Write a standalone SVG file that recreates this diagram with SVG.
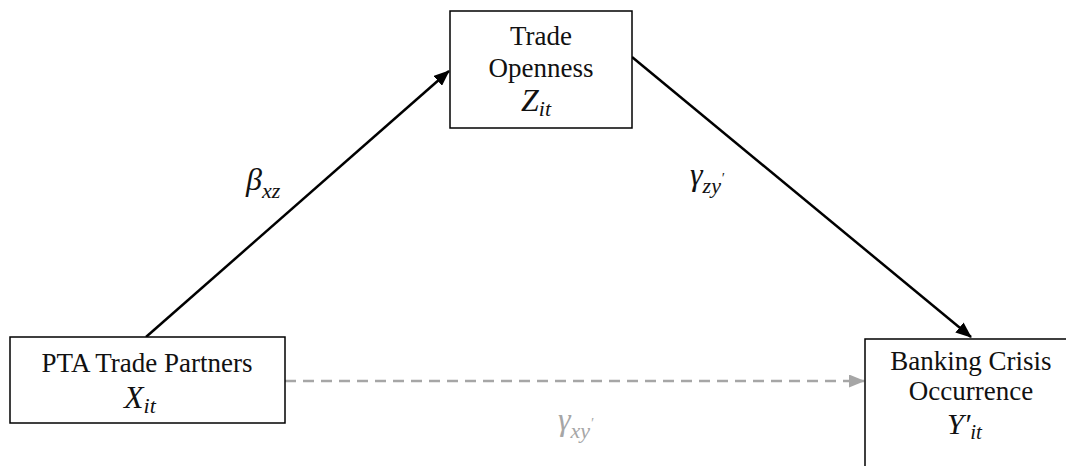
<svg xmlns="http://www.w3.org/2000/svg" width="1066" height="466" viewBox="0 0 1066 466">
<defs>
<style>
.box{fill:#fff;stroke:#000;stroke-width:1.5}
.t{font-family:"Liberation Serif",serif;font-size:27px;fill:#111;text-anchor:middle}
.m{font-family:"Liberation Serif",serif;font-style:italic;font-size:32px;fill:#111}
.s{font-size:22px}
.e{stroke:#000;stroke-width:2.5;fill:none}
.d{stroke:#a6a6a6;stroke-width:2.5;fill:none;stroke-dasharray:11 7}
</style>
<marker id="ah" markerWidth="16" markerHeight="13" refX="15" refY="6.5" orient="auto" markerUnits="userSpaceOnUse" viewBox="0 0 16 13">
<path d="M0,0 L16,6.5 L0,13 z" fill="#000"/>
</marker>
<marker id="ahg" markerWidth="16" markerHeight="13" refX="15" refY="6.5" orient="auto" markerUnits="userSpaceOnUse" viewBox="0 0 16 13">
<path d="M0,0 L16,6.5 L0,13 z" fill="#a6a6a6"/>
</marker>
</defs>
<rect width="1066" height="466" fill="#fff"/>
<g id="connectors">
<line class="e" x1="146" y1="337" x2="449" y2="71" marker-end="url(#ah)"/>
<line class="e" x1="632" y1="57" x2="971" y2="337" marker-end="url(#ah)"/>
<line class="d" x1="285" y1="381" x2="864" y2="381" marker-end="url(#ahg)"/>
<text class="m" x="246" y="190">β<tspan class="s" dy="8">xz</tspan></text>
<text class="m" x="690" y="185">γ<tspan class="s" dy="8">zy</tspan><tspan font-size="14" dy="-10">′</tspan></text>
<text class="m" x="558" y="430" style="fill:#a6a6a6">γ<tspan class="s" dy="8">xy</tspan><tspan font-size="14" dy="-10">′</tspan></text>
</g>
<g id="node-trade-openness">
<rect class="box" x="450" y="11" width="182" height="117"/>
<text class="t" x="541" y="45">Trade</text>
<text class="t" x="541" y="77">Openness</text>
<text class="m" x="521" y="111">Z<tspan class="s" dy="5">it</tspan></text>
</g>
<g id="node-pta">
<rect class="box" x="10" y="337" width="275" height="86"/>
<text class="t" x="147" y="372">PTA Trade Partners</text>
<text class="m" x="124" y="408">X<tspan class="s" dy="5">it</tspan></text>
</g>
<g id="node-banking">
<rect class="box" x="865" y="339" width="210" height="135"/>
<text class="t" x="971" y="370">Banking Crisis</text>
<text class="t" x="971" y="400">Occurrence</text>
<text class="m" x="947" y="434" style="font-size:30px">Y′<tspan class="s" dy="5" style="font-size:21px">it</tspan></text>
</g>
</svg>
